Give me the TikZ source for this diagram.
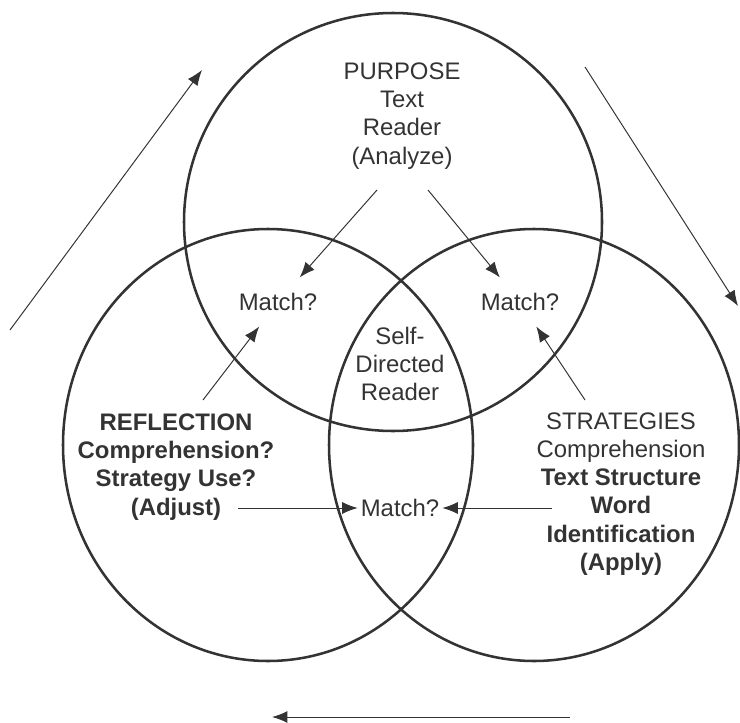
\documentclass[tikz,border=0pt]{standalone}
\usepackage{fontspec}
\setmainfont{Liberation Sans}
\usetikzlibrary{arrows.meta}
\definecolor{ink}{HTML}{333333}
\tikzstyle{ring} = [draw=ink, line width=1.8pt]
\tikzstyle{line} = [draw=ink, line width=0.7pt, -{Latex[length=11pt,width=8.5pt]}]
\tikzstyle{txt} = [font=\fontsize{17}{20}\selectfont, text=ink, align=center, inner sep=0pt]
\tikzstyle{match} = [txt, inner xsep=2pt, inner ysep=11pt]

\begin{document}
\begin{tikzpicture}[x=0.025cm, y=-0.025cm]
    \useasboundingbox (0,0) rectangle (740,722);

    % the three circles
    \draw[ring] (393,222) ellipse [x radius=209, y radius=209];
    \draw[ring] (268,445) ellipse [x radius=205, y radius=216];
    \draw[ring] (534,445) ellipse [x radius=205, y radius=216];

        \node[txt] (purpose) at (402,116) {PURPOSE\\Text\\Reader\\(Analyze)};
        \node[txt] (reflection) at (176,467) {\textbf{REFLECTION}\\\textbf{Comprehension?}\\\textbf{Strategy Use?}\\\textbf{(Adjust)}};
        \node[txt] (strategies) at (621,494) {STRATEGIES\\Comprehension\\\textbf{Text Structure}\\\textbf{Word}\\\textbf{Identification}\\\textbf{(Apply)}};
        \node[txt] (self) at (400,364) {Self-\\Directed\\Reader};

        \node[match] (matchL) at (278,302) {Match?};
        \node[match] (matchR) at (520,302) {Match?};
        \node[match] (matchB) at (400,508) {Match?};

    % arrow tails
    \coordinate (pA) at (377,190);
    \coordinate (pB) at (428,190);
    \coordinate (rA) at (203,400);
    \coordinate (sA) at (585,400);
    \coordinate (rB) at (238,508);
    \coordinate (sB) at (552,508);

    \draw[line] (pA) -- (matchL);
    \draw[line] (pB) -- (matchR);
    \draw[line] (rA) -- (matchL);
    \draw[line] (sA) -- (matchR);
    \draw[line] (rB) -- (matchB);
    \draw[line] (sB) -- (matchB);

    % the cycle round the outside
    \coordinate (cyc1s) at (10,330);
    \coordinate (cyc1e) at (202,70);
    \coordinate (cyc2s) at (585,67);
    \coordinate (cyc2e) at (738,306);
    \coordinate (cyc3s) at (570,717);
    \coordinate (cyc3e) at (272,717);
    \draw[line] (cyc1s) -- (cyc1e);
    \draw[line] (cyc2s) -- (cyc2e);
    \draw[line] (cyc3s) -- (cyc3e);

\end{tikzpicture}
\end{document}
